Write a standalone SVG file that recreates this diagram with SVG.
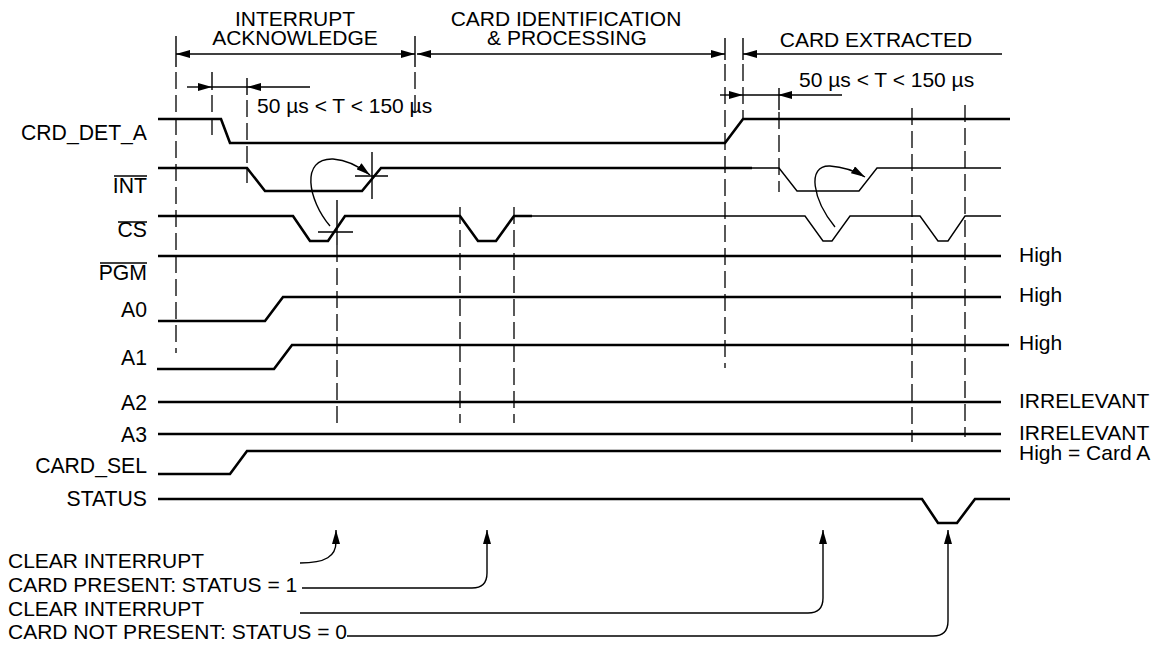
<svg xmlns="http://www.w3.org/2000/svg" width="1160" height="646" viewBox="0 0 1160 646">
<style>
.t{font-family:"Liberation Sans",Arial,Helvetica,sans-serif;font-size:21px;fill:#000}
.l{font-size:21.2px;text-anchor:end}
.c{text-anchor:middle}
.sig{fill:none;stroke:#000;stroke-width:2.6;stroke-linejoin:miter}
.thin{fill:none;stroke:#000;stroke-width:1.4}
.dash{fill:none;stroke:#000;stroke-width:1.3;stroke-dasharray:17,6}
.ob{stroke:#000;stroke-width:1.5}
</style>
<defs>
<marker id="ah" viewBox="0 0 14 8" refX="14" refY="4" markerWidth="14" markerHeight="8" markerUnits="userSpaceOnUse" orient="auto-start-reverse"><path d="M0,0 L14,4 L0,8 Z" fill="#000"/></marker>
</defs>
<rect width="1160" height="646" fill="#fff"/>

<g id="phases">
<text class="t c" x="295" y="26">INTERRUPT</text>
<text class="t c" x="295" y="45">ACKNOWLEDGE</text>
<text class="t c" x="566" y="26">CARD IDENTIFICATION</text>
<text class="t c" x="567" y="45">&amp; PROCESSING</text>
<text class="t c" x="876" y="47">CARD EXTRACTED</text>
<text class="t" x="257" y="113">50 µs &lt; T &lt; 150 µs</text>
<text class="t" x="799" y="87">50 µs &lt; T &lt; 150 µs</text>
</g>

<g id="labels">
<text class="t l" x="147" y="140">CRD_DET_A</text>
<text class="t l" x="147" y="193">INT</text>
<line class="ob" x1="114" y1="176" x2="147" y2="176"/>
<text class="t l" x="147" y="237">CS</text>
<line class="ob" x1="118" y1="222" x2="147" y2="222"/>
<text class="t l" x="147" y="280">PGM</text>
<line class="ob" x1="100" y1="263" x2="147" y2="263"/>
<text class="t l" x="147" y="317">A0</text>
<text class="t l" x="147" y="365">A1</text>
<text class="t l" x="147" y="410">A2</text>
<text class="t l" x="147" y="442">A3</text>
<text class="t l" x="147" y="473">CARD_SEL</text>
<text class="t l" x="147" y="506">STATUS</text>
<text class="t" x="1019" y="262">High</text>
<text class="t" x="1019" y="302">High</text>
<text class="t" x="1019" y="350">High</text>
<text class="t" x="1019" y="408">IRRELEVANT</text>
<text class="t" x="1019" y="440">IRRELEVANT</text>
<text class="t" x="1019" y="460">High = Card A</text>
</g>

<g id="notes">
<text class="t" x="8" y="568">CLEAR INTERRUPT</text>
<text class="t" x="8" y="592">CARD PRESENT: STATUS = 1</text>
<text class="t" x="8" y="616">CLEAR INTERRUPT</text>
<text class="t" x="8" y="639">CARD NOT PRESENT: STATUS = 0</text>
</g>

<g id="signals">
<path id="crd_det_a" class="sig" d="M158,119 H221 L230,143 H725 L743,119 H1010"/>
<g id="int">
<path class="sig" d="M158,168 H247 L265,191 H362 L381,168 H752"/>
<path class="thin" d="M752,168 H779 L797,191 H859 L877,168 H1001"/>
</g>
<g id="cs">
<path class="sig" d="M158,216 H293 L310,241 H328 L345,216 H460 L478,241 H496 L514,216 H532"/>
<path class="thin" d="M532,216 H805 L823,241 H832 L850,216 H920 L938,241 H948 L965,216 H1001"/>
</g>
<path id="pgm" class="sig" d="M158,256 H1001"/>
<path id="a0" class="sig" d="M158,321 H265 L283,297 H1001"/>
<path id="a1" class="sig" d="M157,369 H274 L292,345 H1009"/>
<path id="a2" class="sig" d="M158,402 H1001"/>
<path id="a3" class="sig" d="M158,434 H1001"/>
<path id="card_sel" class="sig" d="M158,474 H230 L247,451 H1001"/>
<path id="status" class="sig" d="M158,499 H922 L938,523 H957 L975,499 H1010"/>
</g>

<g id="connectors">
<path class="thin" d="M176,54 H415" marker-start="url(#ah)" marker-end="url(#ah)"/>
<path class="thin" d="M417,54 H725" marker-start="url(#ah)" marker-end="url(#ah)"/>
<path class="thin" d="M743,54 H1002" marker-start="url(#ah)"/>
<path class="thin" d="M176,36 V67 M415,36 V67 M725,38 V60 M743,38 V60 M212,72 V90 M247,78 V95 M779,88 V110"/>
<path class="thin" d="M187,87 H212" marker-end="url(#ah)"/>
<path class="thin" d="M212,87 H247"/>
<path class="thin" d="M310,87 H247" marker-end="url(#ah)"/>
<path class="thin" d="M720,95 H743" marker-end="url(#ah)"/>
<path class="thin" d="M743,95 H778"/>
<path class="thin" d="M842,95 H778" marker-end="url(#ah)"/>
<path class="dash" d="M176,72 V353"/>
<path class="dash" d="M212,95 V135"/>
<path class="dash" d="M247,100 V183"/>
<path class="dash" d="M415,72 V118"/>
<path class="dash" d="M337,245 V423"/>
<path class="dash" d="M460,207 V423"/>
<path class="dash" d="M514,207 V423"/>
<path class="dash" d="M725,64 V368"/>
<path class="dash" d="M743,64 V118"/>
<path class="dash" d="M779,112 V192"/>
<path class="dash" d="M912,108 V442"/>
<path class="dash" d="M965,105 V437"/>
<path class="thin" d="M337,200 V245 M318,232 H353"/>
<path class="thin" d="M372,152 V199 M355,176 H388"/>
<path class="thin" d="M330,226 C308,200 300,158 333,159 C348,160 360,167 370,175" marker-end="url(#ah)"/>
<path class="thin" d="M835,227 C813,200 806,165 830,166 C845,167 855,171 865,177" marker-end="url(#ah)"/>
<path class="thin" d="M300,563 C326,563 336,556 336,542 V530" marker-end="url(#ah)"/>
<path class="thin" d="M302,588 H472 Q487,588 487,573 V530" marker-end="url(#ah)"/>
<path class="thin" d="M300,613 H808 Q823,613 823,598 V530" marker-end="url(#ah)"/>
<path class="thin" d="M347,636 H933 Q948,636 948,621 V530" marker-end="url(#ah)"/>
</g>
</svg>
